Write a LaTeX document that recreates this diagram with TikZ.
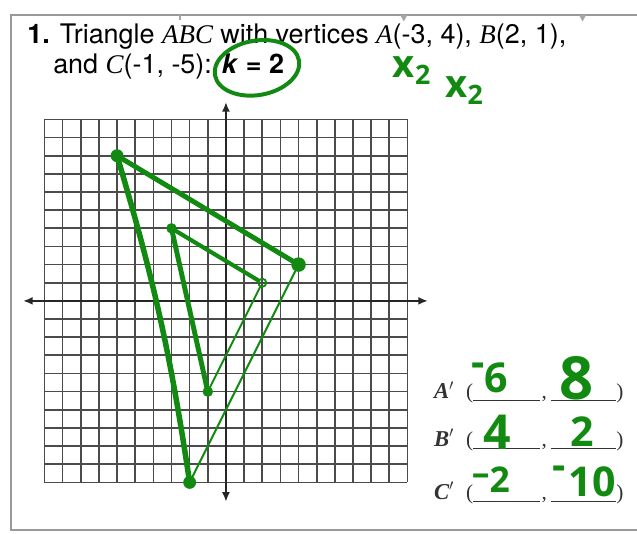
\documentclass[tikz,border=0pt]{standalone}
\usepackage{fontspec}
\setmainfont{TeX Gyre Heros}
\newfontfamily\sheetserif{Liberation Serif}
\newfontfamily\penfont{Open Sans}
\usetikzlibrary{arrows.meta}
\definecolor{pen}{RGB}{18,138,18}
\definecolor{gridgray}{RGB}{75,75,75}
\newcommand{\vtx}[1]{{\sheetserif\itshape #1}}
\newcommand{\blank}[1]{\rule[-1.5pt]{#1}{0.7pt}}
\tikzset{
  frameline/.style={gray!80, line width=1pt},
  gridline/.style={gridgray, line width=1.2pt, step=1},
  axisline/.style={{Latex[length=2.4mm,width=2mm]}-{Latex[length=2.4mm,width=2mm]}, line width=1.4pt, black!85},
  scanmark/.style={fill=gray!70, draw=none},
  question/.style={anchor=base west, inner sep=0pt, font=\fontsize{19}{23}\selectfont},
  answerlabel/.style={anchor=base west, inner sep=0pt, font=\sheetserif\bfseries\itshape\fontsize{16}{16}\selectfont, text=black!80},
  answerblank/.style={anchor=base west, inner sep=0pt, font=\sheetserif\fontsize{15}{15}\selectfont, text=black!80},
  penthick/.style={pen, line width=3.5pt, line cap=round, line join=round},
  penthin/.style={pen, line width=1.4pt, line cap=round},
  pendot/.style={circle, fill=pen, inner sep=0pt, minimum size=#1},
  penmark/.style={text=pen, inner sep=0pt, font=\penfont\bfseries\fontsize{#1}{#1}\selectfont}
}
\begin{document}
\begin{tikzpicture}[x=0.45cm, y=0.45cm]
  \useasboundingbox (-12.45,-12.84) rectangle (22.65,16.58);
  % worksheet frame
  \coordinate (frameTR) at (22.65,15.76);
  \coordinate (frameTL) at (-11.85,15.76);
  \coordinate (frameBL) at (-11.85,-12.62);
  \coordinate (frameBR) at (22.65,-12.62);
  \draw[frameline] (frameTR) -- (frameTL) -- (frameBL) -- (frameBR);
  \fill[scanmark] (-2.6,15.76) rectangle (-2.45,15.5);
  \fill[scanmark] (9.6,15.76) -- (10.0,15.76) -- (9.8,15.4) -- cycle;
  \fill[scanmark] (19.45,15.76) -- (19.85,15.76) -- (19.65,15.4) -- cycle;

  % question text
  \node[question] (qline1) at (-10.96,14.21) {\textbf{1.} Triangle \vtx{ABC} with vertices \vtx{A}(-3, 4), \vtx{B}(2, 1),};
  \node[question] (qline2) at (-9.53,12.51) {and \vtx{C}(-1, -5): \textbf{\textit{k} = 2}};

  % coordinate grid
  \draw[gridline] (-10,-10) grid (10,10);
  \coordinate (xmin) at (-11.18,0);
  \coordinate (xmax) at (11.13,0);
  \coordinate (ymin) at (0,-11.07);
  \coordinate (ymax) at (0,10.96);
  \draw[axisline] (xmin) -- (xmax);
  \draw[axisline] (ymin) -- (ymax);

  % answer blanks
  \node[answerlabel] (alabel) at (11.45,-5.40) {A$'$};
  \node[answerlabel] (blabel) at (11.45,-8.04) {B$'$};
  \node[answerlabel] (clabel) at (11.45,-10.96) {C$'$};
  \node[answerblank] (ablank) at (13.22,-5.40) {(\blank{1.66cm}\kern1pt,\kern3pt\blank{1.62cm})};
  \node[answerblank] (bblank) at (13.22,-8.04) {(\blank{1.66cm}\kern1pt,\kern3pt\blank{1.62cm})};
  \node[answerblank] (cblank) at (13.22,-10.96) {(\blank{1.66cm}\kern1pt,\kern3pt\blank{1.62cm})};

  % pen: scale factor notes
  \coordinate (kcenter) at (1.71,12.84);
  \draw[pen, line width=2.8pt, rotate around={10:(kcenter)}] (kcenter) ellipse (2.35 and 1.5);
  \node[penmark=27] (times1) at (10.25,12.7) {x\textsubscript{2}};
  \node[penmark=27] (times2) at (13.15,11.6) {x\textsubscript{2}};

  % pen: original triangle ABC
  \node[pendot=2.6mm] (dotA) at (-3,4) {};
  \node[circle, draw=pen, line width=1.3pt, inner sep=0pt, minimum size=2mm] (dotB) at (2,1) {};
  \node[pendot=2.6mm] (dotC) at (-1,-5) {};
  \draw[penthick, line width=2.9pt] (dotA.center) -- (dotB);
  \draw[penthick] (dotA.center) -- (dotC.center);
  \draw[penthin] (dotB) -- (dotC.center);

  % pen: image triangle A'B'C'
  \node[pendot=3.2mm] (dotAp) at (-6,8) {};
  \node[pendot=3.6mm] (dotBp) at (4,2) {};
  \node[pendot=3.2mm] (dotCp) at (-2,-10) {};
  \draw[penthick] (dotAp.center) -- (dotBp.center);
  \draw[penthick, line width=3.9pt] (dotAp.center) to[bend left=4] (dotCp.center);
  \draw[penthin] (dotBp) -- (dotCp.center);

  % pen: answers
  \node[penmark=29] (ax) at (14.55,-4.24) {\raisebox{0.38em}{-}6};
  \node[penmark=42] (ay) at (19.34,-4.24) {8};
  \node[penmark=34] (bx) at (14.93,-7.22) {4};
  \node[penmark=29] (by) at (19.61,-7.22) {2};
  \node[penmark=25] (cx) at (14.6,-9.85) {\raisebox{0.2em}{\textendash}2};
  \node[penmark=29] (cy) at (19.75,-9.95) {\raisebox{0.4em}{-}\kern2pt10};
\end{tikzpicture}
\end{document}
